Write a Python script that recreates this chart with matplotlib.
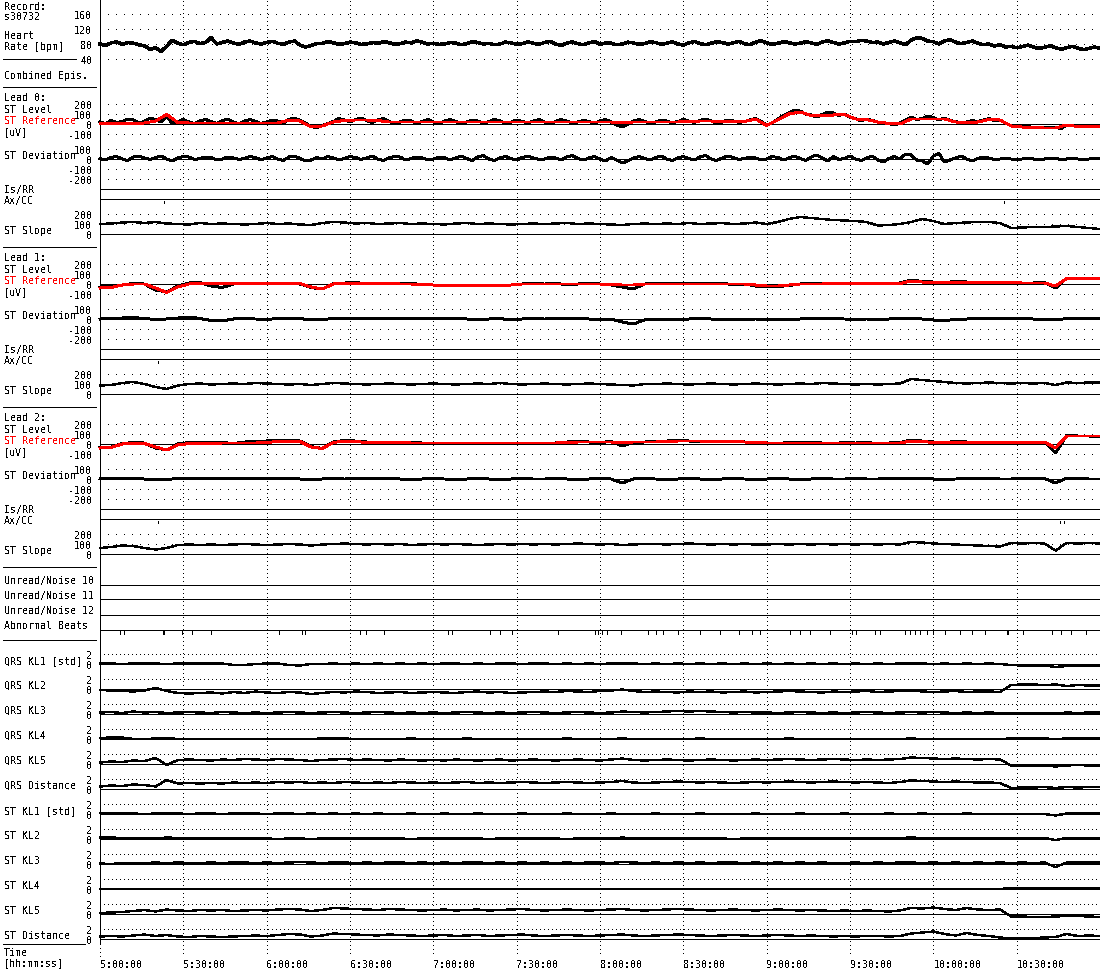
import numpy as np
import matplotlib
matplotlib.use('Agg')
import matplotlib.pyplot as plt

plt.rcParams['font.family'] = ['DejaVu Sans Mono', 'DejaVu Sans']
plt.rcParams['text.antialiased'] = False

# ---- data: every trace spans 5:00:00 .. 11:00:00 in equal steps ----
# (91 values -> one sample every 4 minutes, 181 values -> every 2 minutes)
SPAN = 360
time_ticks = [0, 30, 60, 90, 120, 150, 180, 210, 240, 270, 300, 330]
time_labels = ['5:00:00', '5:30:00', '6:00:00', '6:30:00', '7:00:00', '7:30:00',
               '8:00:00', '8:30:00', '9:00:00', '9:30:00', '10:00:00', '10:30:00']

heart_rate = [80, 76, 83, 86, 79, 84, 82, 78, 75, 66, 70, 60, 74, 90, 82, 78, 84, 87, 81, 84,
              97, 80, 84, 88, 83, 79, 85, 88, 83, 80, 84, 87, 82, 79, 85, 88, 77, 72, 76, 81,
              82, 86, 84, 79, 81, 85, 83, 79, 80, 84, 82, 86, 84, 79, 81, 85, 83, 88, 85, 80,
              82, 79, 80, 84, 83, 78, 81, 86, 84, 80, 82, 78, 80, 85, 83, 79, 81, 86, 82, 79,
              84, 87, 80, 76, 82, 86, 81, 78, 83, 87, 79, 83, 82, 78, 80, 85, 83, 79, 81, 86,
              84, 79, 82, 86, 80, 77, 83, 87, 81, 78, 82, 86, 84, 80, 83, 87, 81, 78, 85, 89,
              83, 79, 82, 86, 84, 80, 82, 86, 83, 79, 85, 89, 84, 80, 83, 87, 86, 90, 88, 84,
              85, 80, 84, 88, 83, 78, 90, 97, 95, 88, 86, 80, 88, 92, 85, 81, 84, 88, 82, 78,
              80, 75, 78, 72, 74, 70, 73, 77, 72, 68, 71, 75, 70, 66, 70, 74, 69, 65, 68, 72,
              68]

st_level = [
    [20, 5, 35, 15, 25, 50, 40, 10, 25, 60, 45, 20, 70, 10, 25, 45, 20, 5, 30, 45,
     25, 5, 35, 50, 20, 0, 30, 45, 25, 5, 20, 40, 30, 10, 45, 60, 35, 10, -25, -35,
     -15, 5, 25, 55, 40, 20, 45, 60, 35, 15, 40, 55, 25, 5, 20, 40, 30, 10, 25, 45,
     20, 0, 30, 45, 25, 5, 20, 40, 30, 10, 25, 45, 30, 10, 20, 40, 25, 10, 30, 45,
     20, 5, 25, 45, 30, 10, 20, 35, 25, 5, 30, 45, 20, -10, -30, -5, 30, 45, 25, 10,
     20, 40, 30, 10, 25, 45, 30, 15, 35, 50, 30, 10, 20, 40, 30, 15, 25, 40, 55, 25,
     -10, 10, 50, 85, 110, 140, 130, 100, 90, 70, 95, 120, 110, 85, 100, 70, 55, 30, 50, 35,
     20, 0, 5, -10, 10, 40, 70, 45, 55, 80, 65, 40, 60, 35, 25, 5, 20, 35, 25, 40,
     55, 30, 40, 10, -20, -30, -30, -25, -35, -30, -40, -35, -35, -45, -10, -15, -20, -25, -25, -20,
     -25],
    [-30, -25, -10, 5, 0, -60, -80, -20, 10, 15,
     -20, -35, 0, 10, 5, 0, 10, 5, 0, -35,
     -50, 5, 10, 15, 0, 5, 10, 0, 5, -5,
     -10, -15, -10, -20, -15, -10, -15, -10, 0, 5,
     0, 5, -5, 0, 5, 0, -10, -30, -50, 0,
     5, 0, 5, 0, 10, 0, 5, -5, 0, -20,
     -30, -25, -15, 0, 5, 0, 10, 5, 0, 5,
     0, 5, 10, 40, 25, 20, 15, 25, 20, 15,
     20, 10, 15, 10, 10, 15, -40, 60, 55, 55,
     60],
    [-35, -30, 5, 15, 10, -40, -60, 0, 15, 20,
     10, 15, 5, 20, 25, 30, 40, 35, 30, -25,
     -45, 20, 35, 30, 20, 15, 10, 20, 15, 10,
     5, 0, 10, 5, 0, 10, 5, 0, 5, 10,
     5, 10, 20, 25, 20, 15, 25, -20, 15, 20,
     25, 30, 35, 30, 25, 20, 25, 30, 20, 15,
     10, 5, 15, 10, 20, 10, 5, 15, 10, 15,
     5, 10, 15, 40, 30, 20, 15, 25, 20, 15,
     20, 10, 15, 20, 15, 20, -90, 85, 80, 80,
     75],
]

st_reference = [
    [5, 5, 5, 5, 10, 30, 95, 15, 10, 10,
     10, 10, 10, 10, 10, 10, 10, 40, 30, -30,
     -20, 20, 35, 40, 40, 35, 20, 20, 20, 20,
     20, 20, 20, 20, 20, 20, 20, 20, 20, 20,
     20, 20, 20, 20, 20, 20, 20, 15, 20, 20,
     20, 20, 20, 25, 30, 30, 25, 20, 25, 50,
     -15, 40, 100, 120, 85, 80, 90, 95, 50, 45,
     20, 5, 0, 50, 50, 50, 50, 20, 15, 20,
     45, 40, -20, -30, -35, -40, -40, -10, -25, -25,
     -28],
    [-40, -35, -10, 0, 0, -40, -85, -30, 0, 5,
     5, 0, 5, 5, 5, 0, 5, 5, 5, -30,
     -50, 0, 5, 5, 5, 5, 5, 0, 0, -5,
     -10, -15, -15, -15, -15, -15, -15, -10, 0, 0,
     0, 0, 0, 0, 0, 0, -5, -10, -10, 0,
     0, 0, 0, 0, 0, 0, 0, 0, 0, -10,
     -20, -20, -10, 0, 0, 0, 5, 5, 5, 5,
     5, 5, 5, 30, 20, 15, 15, 15, 15, 15,
     15, 15, 15, 10, 10, 10, -20, 55, 55, 55,
     60],
    [-40, -35, 0, 5, 5, -30, -60, -10, 5, 5,
     5, 10, 10, 10, 10, 15, 25, 30, 25, -30,
     -45, 15, 30, 25, 15, 15, 15, 15, 10, 10,
     10, 10, 10, 10, 10, 10, 10, 10, 10, 10,
     10, 10, 15, 20, 20, 20, 20, 15, 20, 20,
     20, 25, 30, 30, 30, 25, 25, 25, 20, 15,
     10, 10, 10, 10, 10, 10, 10, 10, 10, 10,
     10, 10, 10, 30, 25, 15, 15, 15, 15, 15,
     15, 15, 15, 15, 15, 20, -40, 80, 80, 80,
     80],
]

st_deviation = [
    [5, -10, 15, 25, 0, -15, 20, 30, 10, -5, 15, 30, 0, -20, 10, 25, 20, -5, 5, 20,
     15, -10, 0, 20, 10, -5, 5, 25, 15, -10, 10, 25, 0, -15, 20, 30, 5, -20, -10, 15,
     0, 25, 10, -10, 5, 25, 15, -5, 10, 30, 0, -15, 10, 25, 20, -10, 5, 20, 10, -5,
     0, 20, 15, -10, 10, 30, 5, -15, 20, 35, 0, -15, 10, 25, 5, -10, 15, 30, 10, -5,
     0, 20, 10, -10, 20, 35, 5, -10, 10, 25, 0, -20, 15, -10, -40, -20, 10, 25, 5, -10,
     15, 30, 0, -15, 10, 25, 5, -10, 20, 35, 0, -15, 10, 30, 15, -5, 5, 20, 10, -10,
     0, 25, 15, -10, 10, 30, 5, -15, 20, 40, 10, -20, 25, -5, 5, 30, 0, -15, 10, 30,
     -10, -30, 5, 25, 0, 50, 40, -10, -20, -50, 30, 55, -30, -10, 10, 30, 0, -20, 5, 20,
     10, -5, 0, 5, 0, -5, 0, 5, 0, -5, 0, 5, 5, -5, 0, 5, 0, -5, 0, 5,
     0],
    [0, 5, 10, 15, 5, -5, 0, 10, 20, 5,
     -15, -20, 0, 5, 0, -5, 5, 0, 5, -10,
     -5, 5, 10, 5, 0, 5, 10, 0, 5, 0,
     5, 0, 10, 0, -5, 0, 5, -10, 0, 5,
     0, 5, 0, 5, 0, -10, 0, -30, -50, -10,
     0, -5, -10, 0, 5, 0, -5, -10, -5, 0,
     -5, -10, -5, 0, 5, 0, 5, 0, -5, 0,
     -5, 0, 5, 10, 0, -10, -15, -5, 0, 5,
     0, 5, 0, 5, 0, -5, -10, 5, 10, 5,
     5],
    [5, 0, 10, 5, 0, -10, -5, 5, 10, 0,
     5, 0, 5, 10, 0, 5, 10, 5, 0, -5,
     0, 5, 0, 5, 10, 0, 5, 0, -5, 0,
     5, 0, -5, 0, 5, 0, -5, 0, 5, 0,
     0, 5, 0, -5, 0, 5, 0, -40, 0, 5,
     0, -5, 0, 5, 0, -5, 0, 5, 0, -5,
     0, 5, 0, -5, 0, 5, 0, 0, 5, 0,
     0, 5, 0, 10, 5, 0, -5, 0, 5, 0,
     5, 0, 0, 5, 0, 5, -40, 10, 5, 0,
     0],
]

st_slope = [
    [100, 105, 115, 120, 110, 120, 105, 100, 95, 110,
     100, 105, 100, 95, 100, 110, 100, 105, 95, 90,
     110, 120, 115, 105, 110, 100, 105, 110, 100, 105,
     100, 95, 105, 110, 100, 105, 100, 95, 100, 105,
     100, 105, 110, 100, 105, 100, 95, 90, 100, 105,
     100, 105, 100, 110, 100, 105, 110, 100, 105, 115,
     100, 120, 150, 170, 160, 150, 140, 135, 130, 120,
     85, 90, 100, 120, 150, 130, 100, 110, 115, 120,
     120, 110, 60, 65, 70, 70, 75, 80, 70, 60,
     50],
    [85, 90, 110, 120, 100, 70, 50, 85, 100, 105,
     95, 100, 105, 100, 110, 105, 100, 95, 100, 90,
     100, 110, 105, 100, 95, 100, 105, 100, 95, 100,
     105, 100, 95, 100, 105, 100, 110, 100, 95, 100,
     105, 100, 95, 100, 105, 100, 95, 90, 85, 100,
     100, 105, 100, 95, 100, 105, 100, 95, 100, 105,
     100, 95, 100, 105, 100, 110, 105, 100, 95, 100,
     95, 100, 105, 150, 140, 130, 120, 110, 105, 110,
     115, 110, 105, 110, 105, 110, 90, 115, 110, 115,
     115],
    [60, 70, 85, 80, 60, 45, 60, 90, 95, 90,
     95, 90, 95, 100, 95, 90, 95, 100, 95, 85,
     95, 100, 105, 100, 95, 100, 95, 100, 90, 95,
     100, 95, 100, 95, 90, 95, 100, 95, 100, 95,
     100, 95, 100, 105, 100, 95, 100, 90, 95, 100,
     100, 95, 100, 105, 100, 95, 100, 95, 100, 95,
     95, 100, 95, 100, 95, 100, 95, 100, 95, 100,
     95, 100, 95, 120, 115, 105, 100, 95, 90, 85,
     80, 75, 110, 105, 110, 105, 35, 110, 105, 110,
     105],
]

# Ax/CC event marks (minutes after 5:00:00) for each lead
axis_events = [[23.0, 325.4], [20.9], [20.9, 345.6, 347.0]]

abnormal_beats = [7.2, 8.6, 22.7, 23.2, 29.5, 33.1, 40.0, 64.4, 72.7, 73.8,
                  93.6, 95.8, 102.2, 125.3, 126.7, 140.4, 144.0, 148.3, 164.9,
                  178.2, 179.3, 180.7, 182.5, 187.6, 197.3, 200.2, 202.7, 208.1,
                  216.0, 223.2, 230.0, 234.7, 237.6, 248.4, 252.0, 255.6, 262.8,
                  270.7, 272.2, 279.0, 280.8, 289.8, 291.6, 293.4, 295.2, 297.7,
                  299.9, 304.2, 309.6, 313.9, 318.6, 326.5, 326.9, 332.3, 342.7,
                  346.0, 349.6, 355.0]

kl_names = ['QRS KL1 [std]', 'QRS KL2', 'QRS KL3', 'QRS KL4', 'QRS KL5', 'QRS Distance',
            'ST KL1 [std]', 'ST KL2', 'ST KL3', 'ST KL4', 'ST KL5', 'ST Distance']

qrs_kl1 = [0.1, 0.1, 0.0, 0.1, 0.1, 0.1, 0.0, 0.1, 0.1, 0.1,
           0.1, 0.1, -0.2, -0.2, 0.0, 0.1, 0.1, -0.2, -0.3, 0.0,
           0.0, 0.1, 0.0, 0.1, 0.0, 0.1, 0.0, 0.1, 0.0, 0.1,
           0.0, 0.1, 0.1, 0.0, 0.1, 0.0, 0.1, 0.1, 0.0, 0.1,
           0.1, 0.0, 0.1, 0.0, 0.1, 0.0, 0.1, 0.2, 0.1, 0.0,
           0.1, 0.0, 0.1, 0.0, 0.1, 0.0, 0.1, 0.0, 0.1, 0.0,
           0.1, 0.0, 0.1, 0.0, 0.1, 0.0, 0.1, 0.0, 0.1, 0.0,
           0.1, 0.0, 0.1, 0.2, 0.1, 0.0, 0.1, 0.0, 0.1, 0.0,
           0.1, 0.0, -0.2, -0.3, -0.3, -0.3, -0.6, -0.4, -0.3, -0.3,
           -0.3]
qrs_kl2 = [-0.2, -0.3, -0.4, -0.5, -0.3, 0.2, -0.4, -0.8, -0.9, -0.8,
           -0.7, -0.9, -0.6, -0.8, -0.5, -0.7, -0.8, -0.6, -0.7, -1.0,
           -0.8, -0.6, -0.7, -0.5, -0.6, -0.8, -0.7, -0.6, -0.8, -0.7,
           -0.6, -0.7, -0.8, -0.6, -0.5, -0.7, -0.6, -0.8, -0.7, -0.6,
           -0.5, -0.6, -0.4, -0.5, -0.6, -0.4, -0.3, -0.1, -0.4, -0.6,
           -0.5, -0.6, -0.7, -0.5, -0.6, -0.5, -0.7, -0.6, -0.5, -0.7,
           -0.6, -0.5, -0.4, -0.5, -0.6, -0.7, -0.5, -0.6, -0.5, -0.4,
           -0.6, -0.5, -0.4, -0.3, -0.5, -0.6, -0.5, -0.4, -0.6, -0.5,
           -0.5, -0.6, 0.8, 0.9, 0.9, 0.8, 0.9, 0.6, 0.8, 0.7,
           0.7]
qrs_kl3 = [0.3, 0.4, 0.2, 0.5, 0.3, 0.4, 0.2, 0.3, 0.4, 0.3,
           0.2, 0.4, 0.3, 0.2, 0.3, 0.2, 0.3, 0.4, 0.3, 0.2,
           0.3, 0.4, 0.3, 0.2, 0.3, 0.4, 0.3, 0.2, 0.3, 0.2,
           0.3, 0.2, 0.3, 0.4, 0.3, 0.2, 0.3, 0.2, 0.3, 0.4,
           0.3, 0.2, 0.3, 0.4, 0.3, 0.2, 0.3, 0.5, 0.4, 0.3,
           0.4, 0.5, 0.6, 0.5, 0.6, 0.5, 0.4, 0.3, 0.4, 0.3,
           0.3, 0.2, 0.3, 0.4, 0.3, 0.2, 0.3, 0.2, 0.3, 0.4,
           0.3, 0.2, 0.3, 0.4, 0.3, 0.4, 0.3, 0.2, 0.3, 0.2,
           0.3, 0.2, 0.1, 0.2, 0.1, 0.2, 0.1, 0.3, 0.2, 0.3,
           0.3]
qrs_kl4 = [0.2, 0.3, 0.3, 0.0, 0.0, 0.1, 0.2, 0.0, 0.0, 0.0,
           0.0, 0.0, 0.0, 0.0, 0.0, 0.0, 0.0, 0.0, 0.0, 0.0,
           0.1, 0.2, 0.1, 0.0, 0.0, 0.0, 0.0, 0.0, 0.1, 0.0,
           0.0, 0.0, 0.0, 0.1, 0.0, 0.0, 0.0, 0.0, 0.0, 0.0,
           0.0, 0.0, 0.1, 0.0, 0.0, 0.0, 0.0, 0.1, 0.0, 0.0,
           0.0, 0.0, 0.0, 0.0, 0.1, 0.0, 0.0, 0.0, 0.0, 0.0,
           0.0, 0.0, 0.1, 0.0, 0.0, 0.0, 0.0, 0.0, 0.0, 0.0,
           0.0, 0.0, 0.0, 0.1, 0.0, 0.0, 0.0, 0.0, 0.0, 0.0,
           0.0, 0.0, 0.1, 0.1, 0.1, 0.1, 0.0, 0.1, 0.1, 0.1,
           0.1]
qrs_kl5 = [0.3, 0.5, 0.4, 0.7, 0.6, 1.2, -0.2, 0.8, 0.9, 0.8,
           0.7, 0.9, 0.8, 1.0, 0.9, 0.8, 1.0, 0.9, 0.8, 0.6,
           0.8, 0.9, 1.0, 0.8, 0.9, 0.8, 0.7, 0.9, 0.8, 0.7,
           0.8, 0.7, 0.9, 0.8, 0.7, 0.8, 0.9, 0.7, 0.8, 0.9,
           0.8, 0.7, 0.8, 0.9, 0.8, 0.7, 0.9, 1.1, 0.8, 0.7,
           0.8, 0.9, 0.8, 0.7, 0.8, 0.9, 0.8, 0.7, 0.8, 0.9,
           0.8, 0.9, 1.0, 0.9, 0.8, 0.9, 1.0, 0.9, 0.8, 0.9,
           0.8, 0.9, 1.0, 1.3, 1.2, 1.1, 1.0, 1.1, 1.0, 0.9,
           1.0, 0.9, -0.3, -0.4, -0.4, -0.3, -0.5, -0.3, -0.2, -0.3,
           -0.3]
qrs_distance = [0.5, 0.7, 0.6, 0.9, 0.8, 0.5, 1.8, 1.1, 1.2, 1.1,
                1.2, 1.1, 1.3, 1.2, 1.3, 1.2, 1.4, 1.3, 1.4, 1.2,
                1.3, 1.2, 1.4, 1.3, 1.2, 1.3, 1.2, 1.4, 1.3, 1.2,
                1.3, 1.2, 1.3, 1.4, 1.2, 1.3, 1.2, 1.3, 1.4, 1.3,
                1.2, 1.3, 1.4, 1.3, 1.2, 1.3, 1.4, 1.6, 1.3, 1.2,
                1.3, 1.4, 1.5, 1.4, 1.3, 1.4, 1.3, 1.2, 1.3, 1.4,
                1.3, 1.4, 1.5, 1.4, 1.3, 1.4, 1.5, 1.4, 1.3, 1.4,
                1.3, 1.2, 1.4, 1.7, 1.6, 1.5, 1.4, 1.5, 1.4, 1.3,
                1.3, 1.2, 0.2, 0.3, 0.3, 0.4, 0.2, 0.4, 0.3, 0.4,
                0.4]
st_kl1 = [0.2, 0.1, 0.1, 0.1, 0.0, 0.1, 0.1, 0.1, 0.0, 0.1,
          0.1, 0.0, 0.1, 0.1, 0.1, 0.0, 0.1, 0.1, 0.0, 0.1,
          0.0, 0.1, 0.0, 0.1, 0.0, 0.1, 0.0, 0.0, 0.1, 0.0,
          0.0, 0.1, 0.0, 0.0, 0.1, 0.0, 0.0, 0.0, 0.1, 0.0,
          0.0, 0.0, 0.1, 0.0, 0.0, 0.0, 0.1, 0.0, 0.0, 0.0,
          0.1, 0.0, 0.0, 0.0, 0.1, 0.0, 0.0, 0.0, 0.0, 0.1,
          0.0, 0.0, 0.0, 0.1, 0.0, 0.0, 0.0, 0.1, 0.0, 0.0,
          0.0, 0.1, 0.0, 0.0, 0.1, 0.0, 0.0, 0.0, 0.1, 0.0,
          0.0, 0.0, 0.0, 0.0, 0.0, 0.0, -0.3, 0.1, 0.1, 0.1,
          0.1]
st_kl2 = [0.3, 0.3, 0.2, 0.1, 0.2, 0.1, 0.3, 0.2, 0.1, 0.1,
          0.1, 0.2, 0.1, 0.1, 0.2, 0.1, 0.0, 0.1, 0.1, 0.0,
          0.1, 0.2, 0.2, 0.1, 0.1, 0.2, 0.1, 0.1, 0.0, 0.1,
          0.1, 0.1, 0.2, 0.1, 0.1, 0.0, 0.1, 0.1, 0.2, 0.1,
          0.1, 0.1, 0.0, 0.1, 0.2, 0.1, 0.1, 0.3, 0.1, 0.1,
          0.2, 0.1, 0.1, 0.1, 0.2, 0.1, 0.1, 0.0, 0.1, 0.1,
          0.1, 0.2, 0.1, 0.1, 0.1, 0.2, 0.1, 0.1, 0.1, 0.1,
          0.1, 0.1, 0.2, 0.3, 0.2, 0.2, 0.1, 0.1, 0.2, 0.1,
          0.1, 0.1, 0.2, 0.2, 0.1, 0.2, -0.2, 0.2, 0.2, 0.2,
          0.2]
st_kl3 = [0.1, 0.0, 0.2, 0.1, 0.2, 0.3, 0.2, 0.3, 0.2, 0.2,
          0.3, 0.2, 0.3, 0.3, 0.2, 0.3, 0.2, 0.3, 0.4, 0.3,
          0.2, 0.3, 0.3, 0.2, 0.3, 0.2, 0.3, 0.3, 0.2, 0.3,
          0.2, 0.3, 0.2, 0.3, 0.3, 0.2, 0.3, 0.2, 0.3, 0.2,
          0.3, 0.2, 0.3, 0.2, 0.3, 0.3, 0.2, 0.4, 0.3, 0.2,
          0.3, 0.2, 0.3, 0.2, 0.3, 0.2, 0.3, 0.3, 0.2, 0.3,
          0.2, 0.3, 0.2, 0.3, 0.2, 0.3, 0.2, 0.2, 0.3, 0.2,
          0.3, 0.2, 0.3, 0.3, 0.2, 0.3, 0.2, 0.3, 0.2, 0.3,
          0.2, 0.3, 0.2, 0.3, 0.2, 0.3, -0.6, 0.3, 0.3, 0.3,
          0.3]
st_kl4 = [0.0, 0.0, 0.0, 0.0, 0.0, 0.0, 0.0, 0.0, 0.0, 0.0,
          0.0, 0.0, 0.0, 0.0, 0.0, 0.0, 0.0, 0.0, 0.0, 0.0,
          0.0, 0.0, 0.0, 0.0, 0.0, 0.0, 0.0, 0.0, 0.0, 0.0,
          0.0, 0.0, 0.0, 0.0, 0.0, 0.0, 0.0, 0.0, 0.0, 0.0,
          0.0, 0.0, 0.0, 0.0, 0.0, 0.0, 0.0, 0.0, 0.0, 0.0,
          0.0, 0.0, 0.0, 0.0, 0.0, 0.0, 0.0, 0.0, 0.0, 0.0,
          0.0, 0.0, 0.0, 0.0, 0.0, 0.0, 0.0, 0.0, 0.0, 0.0,
          0.0, 0.0, 0.0, 0.0, 0.0, 0.0, 0.0, 0.0, 0.0, 0.0,
          0.0, 0.0, 0.2, 0.2, 0.2, 0.2, 0.2, 0.2, 0.2, 0.2,
          0.2]
st_kl5 = [0.2, 0.3, 0.4, 0.6, 0.8, 0.5, 0.9, 0.7, 0.6, 0.8,
          0.7, 0.8, 0.6, 0.7, 0.8, 0.7, 0.9, 1.0, 0.9, 0.6,
          0.8, 1.2, 1.1, 1.0, 0.9, 0.8, 1.0, 0.9, 0.8, 0.7,
          0.8, 0.9, 0.7, 0.8, 0.9, 0.7, 0.8, 0.9, 1.0, 0.8,
          0.7, 0.8, 0.9, 0.8, 0.7, 0.8, 0.9, 1.0, 0.8, 0.7,
          0.8, 0.9, 1.0, 0.9, 0.8, 0.7, 0.8, 0.9, 0.8, 0.7,
          0.8, 0.9, 0.8, 0.7, 0.8, 0.7, 0.6, 0.7, 0.6, 0.7,
          0.6, 0.5, 0.7, 1.2, 1.1, 1.3, 1.0, 0.8, 1.2, 0.9,
          0.8, 0.9, -0.5, -0.5, -0.6, -0.6, -0.5, -0.4, -0.4, -0.5,
          -0.6]
st_distance = [0.5, 0.6, 0.5, 0.7, 0.9, 0.6, 0.8, 0.5, 0.4, 0.6,
               0.5, 0.4, 0.5, 0.6, 0.7, 0.6, 0.8, 1.0, 0.9, 0.5,
               0.7, 1.1, 1.0, 0.9, 0.8, 0.7, 0.9, 0.8, 0.7, 0.6,
               0.7, 0.8, 0.6, 0.7, 0.8, 0.6, 0.7, 0.8, 0.9, 0.7,
               0.6, 0.7, 0.8, 0.7, 0.6, 0.7, 0.8, 0.9, 0.7, 0.6,
               0.7, 0.8, 0.9, 0.8, 0.7, 0.6, 0.7, 0.8, 0.7, 0.6,
               0.7, 0.8, 0.7, 0.6, 0.7, 0.6, 0.5, 0.6, 0.5, 0.6,
               0.6, 0.5, 0.6, 1.1, 1.3, 1.5, 1.0, 0.7, 1.2, 0.8,
               0.6, 0.3, 0.1, 0.1, 0.2, 0.3, 0.4, 1.0, 0.6, 0.7,
               0.6]
kl_series = [qrs_kl1, qrs_kl2, qrs_kl3, qrs_kl4, qrs_kl5, qrs_distance,
             st_kl1, st_kl2, st_kl3, st_kl4, st_kl5, st_distance]

# ---- layout (pixel based, figure is 1100 x 970) ----
W, H = 1100, 970
FS = 7.2
X0, X1 = 100, 1100
K = 'black'
RED = '#ff0000'
HDOT = (0, (1, 7))
KDOT = (0, (1, 4))

fig = plt.figure(figsize=(W / 100, H / 100), dpi=100, facecolor='white')

lab = fig.add_axes([0, 0, 1, 1])
lab.set_xlim(0, W)
lab.set_ylim(H, 0)
lab.axis('off')

bg = fig.add_axes([X0 / W, 1 - 958 / H, (X1 - X0) / W, 958 / H])
bg.set_xlim(0, SPAN)
bg.set_ylim(958, 0)
bg.patch.set_visible(False)
for s in bg.spines.values():
    s.set_visible(False)
bg.set_yticks([])
bg.set_xticks(time_ticks)
bg.set_xticklabels(time_labels, fontsize=FS, ha='left')
bg.tick_params(axis='x', length=0, pad=1.5)
for t in time_ticks[1:]:
    bg.axvline(t, color=K, lw=0.72, ls=(0, (1, 3)), antialiased=False)
bg.plot([0, 0], [0, 945], color=K, lw=0.72, antialiased=False)
bg.plot([0, 0], [945, 958], color=K, lw=0.72, ls=(0, (1, 3)), antialiased=False)
# frame lines that are not a zero line of any trace
frames = [190, 200, 350, 360, 510, 520, 586, 600, 616, 631]
bg.hlines(frames, 0, SPAN, color=K, lw=0.72, antialiased=False)


def strip(top, bottom, zero, ppu, ticks, dots=HDOT, zero_line=True):
    ax = fig.add_axes([X0 / W, 1 - bottom / H, (X1 - X0) / W, (bottom - top) / H])
    ax.set_xlim(0, SPAN)
    ax.set_ylim((zero - bottom) / ppu, (zero - top) / ppu)
    ax.patch.set_visible(False)
    for s in ax.spines.values():
        s.set_visible(False)
    ax.set_xticks([])
    ax.set_yticks(ticks)
    ax.set_yticklabels([str(v) for v in ticks])
    ax.tick_params(left=False, labelsize=FS, pad=2.2)
    for v in ticks:
        if v != 0:
            ax.axhline(v, color=K, lw=0.72, ls=dots, antialiased=False)
    if zero_line:
        ax.axhline(0, color=K, lw=0.72, antialiased=False)
    return ax


def times(values):
    return np.arange(len(values)) * SPAN / (len(values) - 1)


# heart rate
ax = strip(0, 75, 75, 15 / 40, [160, 120, 80, 40])
ax.plot(times(heart_rate), heart_rate, color=K, lw=1.8, antialiased=False, clip_on=False)

# three ST leads
for k in range(3):
    o = 160 * k
    ax = strip(o + 92, o + 142, o + 125, 0.1, [200, 100, 0, -100])
    ax.plot(times(st_level[k]), st_level[k], color=K, lw=1.4, antialiased=False, clip_on=False)
    ax.plot(times(st_reference[k]), st_reference[k], color=RED, lw=1.4, antialiased=False, clip_on=False)
    ax = strip(o + 142, o + 188, o + 160, 0.1, [100, 0, -100, -200])
    ax.plot(times(st_deviation[k]), st_deviation[k], color=K, lw=1.4, antialiased=False, clip_on=False)
    ax = strip(o + 202, o + 247, o + 235, 0.1, [200, 100, 0])
    ax.plot(times(st_slope[k]), st_slope[k], color=K, lw=1.0, antialiased=False, clip_on=False)
    ax.vlines(axis_events[k], 310, 350, color=K, lw=0.72, antialiased=False)

# abnormal beats
ax = strip(631, 640, 631, 1.0, [], zero_line=False)
ax.vlines(abnormal_beats, -4, 0, color=K, lw=0.72, antialiased=False)

# KL traces
for j, vals in enumerate(kl_series):
    z = 665 + 25 * j
    ax = strip(z - 15, z + 8, z, 5.0, [2, 0], dots=KDOT)
    ax.plot(times(vals), vals, color=K, lw=1.0, antialiased=False, clip_on=False)

# ---- left hand labels ----
def label(y, s, color=K):
    lab.text(4, y, s, fontsize=FS, color=color, va='center', ha='left')


label(6.5, 'Record:')
label(17, 's30732')
label(36, 'Heart')
label(47, 'Rate [bpm]')
label(76, 'Combined Epis.')
for k in range(3):
    o = 160 * k
    label(o + 98, 'Lead %d:' % k)
    label(o + 110, 'ST Level')
    label(o + 121.5, 'ST Reference', RED)
    label(o + 132, '[uV]')
    label(o + 156, 'ST Deviation')
    label(o + 190, 'Is/RR')
    label(o + 201, 'Ax/CC')
    label(o + 231, 'ST Slope')
label(581, 'Unread/Noise 10')
label(596, 'Unread/Noise 11')
label(611, 'Unread/Noise 12')
label(626, 'Abnormal Beats')
for j, name in enumerate(kl_names):
    label(661 + 25 * j, name)
label(953.5, 'Time')
label(963.5, '[hh:mm:ss]')

separators = [(60, 76), (88, 96), (248, 96), (408, 96), (568, 96), (641, 96), (945, 85)]
for y, x_end in separators:
    lab.plot([3, x_end], [y, y], color=K, lw=0.72, antialiased=False)

fig.savefig('out.png', dpi=100, facecolor='white')
